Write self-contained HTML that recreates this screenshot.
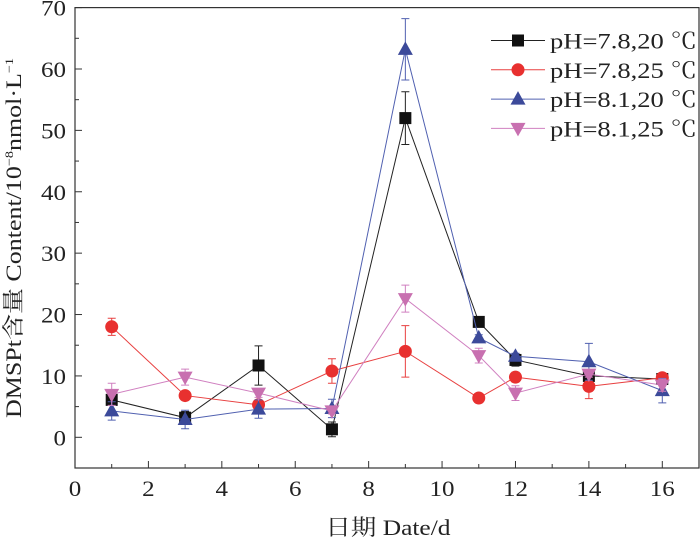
<!DOCTYPE html>
<html><head><meta charset="utf-8"><style>
html,body{margin:0;padding:0;background:#fff;}
svg{display:block;font-family:"Liberation Serif","Noto Serif CJK SC",serif;}
</style></head><body>
<svg id="chart" width="700" height="539" viewBox="0 0 700 539" xmlns="http://www.w3.org/2000/svg"></svg>
<script>
const days = [1,3,5,7,9,11,12,14,16];
const seriesNames = ["pH=7.8,20 ℃","pH=7.8,25 ℃","pH=8.1,20 ℃","pH=8.1,25 ℃"];
const s1 = [6.1,3.2,11.7,1.3,52,18.8,12.6,10,9.5];
const s2 = [18,6.8,5.3,10.8,14,6.4,9.8,8.3,9.7];
const s3 = [4.3,2.9,4.6,4.7,63.2,16.2,13.2,12.3,7.6];
const s4 = [7,9.8,7.2,4.3,22.6,13.3,7.2,10.3,8.5];
const e1 = [0.8,1,3.2,1.2,4.3,0.5,1,0.5,0.5];
const e2 = [1.4,0.5,0.5,2,4.2,0.4,0.8,2,0.4];
const e3 = [1.5,1.5,1.5,1.5,5,0.5,0.5,3,2];
const e4 = [1.8,1.3,0.7,0.5,2.2,1.2,1.2,0.5,1];
const xTicks = [0,2,4,6,8,10,12,14,16];
const yTicks = [0,10,20,30,40,50,60,70];

const NS="http://www.w3.org/2000/svg";
const svg=document.getElementById('chart');
const L=75,R=699,T=7.6,B=468, xMin=0,xMax=17,yMin=-5,yMax=70;
const X=v=>L+(v-xMin)/(xMax-xMin)*(R-L);
const Y=v=>B-(v-yMin)/(yMax-yMin)*(B-T);
function mk(tag,attrs,parent){const e=document.createElementNS(NS,tag);for(const k in attrs)e.setAttribute(k,attrs[k]);(parent||svg).appendChild(e);return e;}

const frame=mk('rect',{x:L,y:T,width:R-L,height:B-T,fill:'none',stroke:'#333','stroke-width':1.2});



for(let v=0;v<=17;v++){
  const t=mk('line',{x1:X(v),x2:X(v),y1:B,y2:B-(v%2===0?7:4),stroke:'#333','stroke-width':1});
  
  
}
xTicks.forEach(v=>{
  const w=String(v).length*12.5;
  const t=mk('text',{x:X(v),y:B+28,'text-anchor':'middle','font-size':22,fill:'#222',textLength:w,lengthAdjust:'spacingAndGlyphs'});
  t.textContent=v;
  
  
});
for(let v=-5;v<=70;v+=5){
  const t=mk('line',{x1:L,x2:L+(v%10===0?7:4),y1:Y(v),y2:Y(v),stroke:'#333','stroke-width':1});
  
  
}
yTicks.forEach(v=>{
  const w=String(v).length*12.5;
  const t=mk('text',{x:L-9,y:Y(v)+8,'text-anchor':'end','font-size':22,fill:'#222',textLength:w,lengthAdjust:'spacingAndGlyphs'});
  t.textContent=v;
  
  
});
const xt=mk('text',{x:388,y:535,'text-anchor':'middle','font-size':22,fill:'#222',textLength:125,lengthAdjust:'spacingAndGlyphs'});
xt.textContent='日期 Date/d';


const yt=mk('text',{x:0,y:0,'text-anchor':'middle','font-size':22,fill:'#222',transform:'translate(21,238) rotate(-90)',textLength:360,lengthAdjust:'spacingAndGlyphs'});
yt.innerHTML='DMSPt含量 Content/10<tspan font-size="12" dy="-8">−8</tspan><tspan dy="8">nmol·L</tspan><tspan font-size="12" dy="-8">−1</tspan>';



const colors=['#111','#e8302f','#3c4a9a','#c870b0'];
const lineColors=['#222','#e84040','#5060b0','#d080c0'];
const vals=[s1,s2,s3,s4], errs=[e1,e2,e3,e4];
function marker(i,cx,cy,g){
  const c=colors[i];let m;
  if(i===0)m=mk('rect',{x:cx-6,y:cy-6,width:12,height:12,fill:c},g);
  else if(i===1)m=mk('circle',{cx:cx,cy:cy,r:6.5,fill:c},g);
  else if(i===2)m=mk('polygon',{points:`${cx},${cy-8} ${cx-7.5},${cy+5.5} ${cx+7.5},${cy+5.5}`,fill:c},g);
  else m=mk('polygon',{points:`${cx},${cy+8} ${cx-7.5},${cy-5.5} ${cx+7.5},${cy-5.5}`,fill:c},g);
  return m;
}
vals.forEach((arr,i)=>{
  const g=mk('g',{});
  
  
  arr.forEach((v,j)=>{
    const e=errs[i][j],x=X(days[j]);
    const eb=mk('path',{d:`M${x},${Y(v+e)}V${Y(v-e)}M${x-4},${Y(v+e)}H${x+4}M${x-4},${Y(v-e)}H${x+4}`,stroke:lineColors[i],'stroke-width':1,fill:'none'},g);
    
    
  });
  const pl=mk('polyline',{points:arr.map((v,j)=>X(days[j])+','+Y(v)).join(' '),fill:'none',stroke:lineColors[i],'stroke-width':1},g);
  
  
  arr.forEach((v,j)=>{
    const m=marker(i,X(days[j]),Y(v),g);
    
    
  });
});
const lg=mk('g',{});


seriesNames.forEach((n,i)=>{
  const y=40.5+i*29.3;
  const ln=mk('line',{x1:491,x2:545,y1:y,y2:y,stroke:lineColors[i],'stroke-width':1},lg);
  
  
  const m=marker(i,518,y,lg);
  
  
  const t=mk('text',{x:550,y:y+8,'font-size':22,fill:'#222',textLength:147,lengthAdjust:'spacingAndGlyphs'},lg);
  t.textContent=n;
  
  
});
</script>
</body></html>
